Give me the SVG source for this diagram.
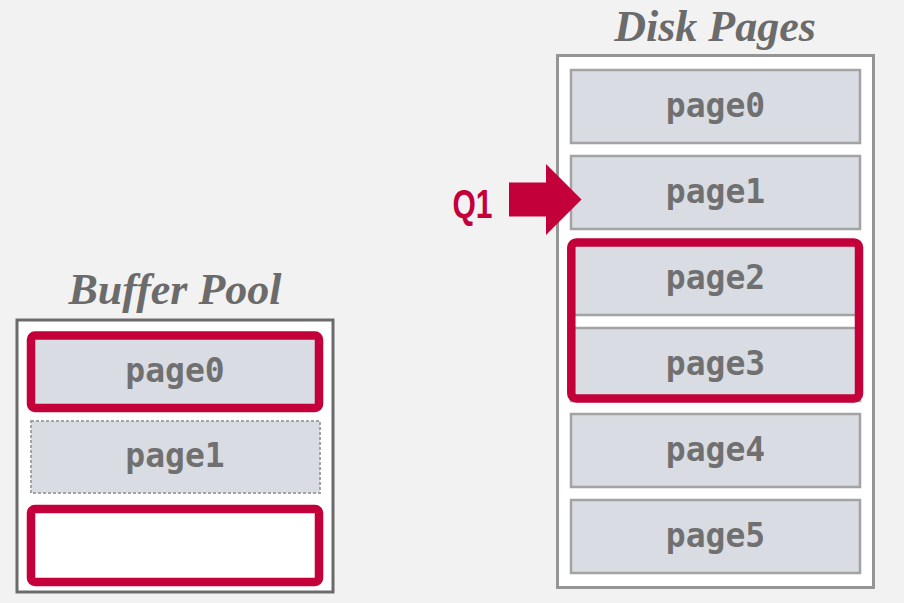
<svg xmlns="http://www.w3.org/2000/svg" width="904" height="603" viewBox="0 0 904 603">
<style>
.bg{fill:#f2f2f2}
.title{font-family:"Liberation Serif",serif;font-style:italic;font-weight:bold;font-size:44px;fill:#6b6b6b;text-anchor:middle}
.pg{fill:#d9dce3;stroke:#a3a3a3;stroke-width:2.5}
.pgd{fill:#d9dce3;stroke:#a3a3a3;stroke-width:2;stroke-dasharray:3 2}
.lbl{font-family:"DejaVu Sans Mono","Liberation Mono",monospace;font-weight:bold;font-size:33px;fill:#707070;text-anchor:middle}
.hl{fill:none;stroke:#c3003a;stroke-width:8.5}
.q{font-family:"Liberation Sans",Arial,sans-serif;font-weight:bold;font-size:41px;fill:#c3003a}
</style>
<rect class="bg" x="0" y="0" width="904" height="603"/>

<g id="buffer-pool">
  <text class="title" x="175" y="304">Buffer Pool</text>
  <rect x="17" y="320" width="316" height="272" fill="#ffffff" stroke="#6b6b6b" stroke-width="3"/>
</g>
<g id="bp-page0">
  <rect x="31" y="335.5" width="288" height="72.5" fill="#d9dce3"/>
  <rect class="hl" x="31" y="335.5" width="288" height="72.5" rx="4"/>
  <text class="lbl" x="175" y="382">page0</text>
</g>
<g id="bp-page1">
  <rect class="pgd" x="31" y="421" width="289" height="72"/>
  <text class="lbl" x="175" y="467">page1</text>
</g>
<g id="bp-slot">
  <rect x="31" y="509" width="288" height="73" fill="#ffffff"/>
  <rect class="hl" x="31" y="509" width="288" height="73" rx="4"/>
</g>

<g id="disk-pages">
  <text class="title" x="715" y="41">Disk Pages</text>
  <rect x="557.5" y="55.5" width="316" height="532" fill="#ffffff" stroke="#959595" stroke-width="3"/>
</g>
<g id="disk-page0">
  <rect class="pg" x="571" y="70" width="289" height="73"/>
  <text class="lbl" x="715.5" y="117">page0</text>
</g>
<g id="disk-page1">
  <rect class="pg" x="571" y="156" width="289" height="73"/>
  <text class="lbl" x="715.5" y="203">page1</text>
</g>
<g id="disk-page2">
  <rect class="pg" x="571" y="242" width="289" height="73"/>
  <text class="lbl" x="715.5" y="289">page2</text>
</g>
<g id="disk-page3">
  <rect class="pg" x="571" y="328" width="289" height="73"/>
  <text class="lbl" x="715.5" y="375">page3</text>
</g>
<g id="disk-page4">
  <rect class="pg" x="571" y="414" width="289" height="73"/>
  <text class="lbl" x="715.5" y="461">page4</text>
</g>
<g id="disk-page5">
  <rect class="pg" x="571" y="500" width="289" height="73"/>
  <text class="lbl" x="715.5" y="547">page5</text>
</g>
<g id="disk-highlight">
  <rect class="hl" x="571.3" y="242.5" width="287.7" height="156" rx="5"/>
</g>

<g id="connectors">
  <polygon points="509,182.5 546,182.5 546,164 581.5,199.5 546,235 546,216.5 509,216.5" fill="#c3003a"/>
  <text class="q" x="452.5" y="218" textLength="40" lengthAdjust="spacingAndGlyphs">Q1</text>
</g>
</svg>
